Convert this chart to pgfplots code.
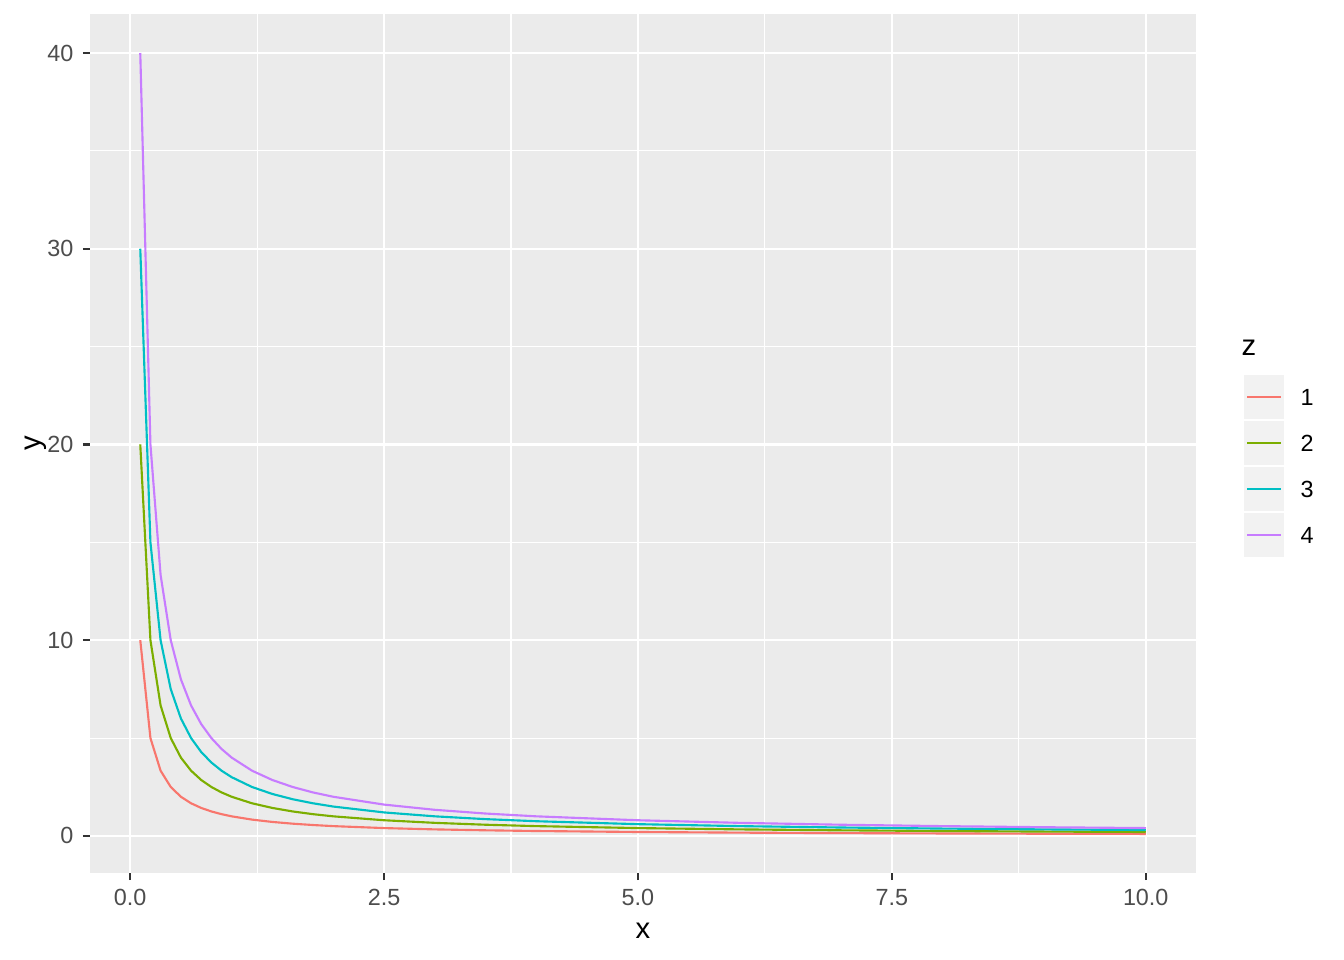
\documentclass[border=0pt]{standalone}
\usepackage{fontspec}
\setmainfont{Liberation Sans}
\usepackage{pgfplots}
\usepackage{pgfplotstable}
\pgfplotsset{compat=1.18}
\definecolor{panelbg}{HTML}{EBEBEB}
\definecolor{keybg}{HTML}{F2F2F2}
\definecolor{gray30}{HTML}{4D4D4D}
\definecolor{gray20}{HTML}{333333}
\definecolor{c1}{HTML}{F8766D}
\definecolor{c2}{HTML}{7CAE00}
\definecolor{c3}{HTML}{00BFC4}
\definecolor{c4}{HTML}{C77CFF}
\pgfplotstableread{
x y1 y2 y3 y4
0.1 10 20 30 40
0.2 5 10 15 20
0.3 3.333 6.667 10 13.333
0.4 2.5 5 7.5 10
0.5 2 4 6 8
0.6 1.667 3.333 5 6.667
0.7 1.429 2.857 4.286 5.714
0.8 1.25 2.5 3.75 5
0.9 1.111 2.222 3.333 4.444
1.0 1 2 3 4
1.2 0.833 1.667 2.5 3.333
1.4 0.714 1.429 2.143 2.857
1.6 0.625 1.25 1.875 2.5
1.8 0.556 1.111 1.667 2.222
2.0 0.5 1 1.5 2
2.5 0.4 0.8 1.2 1.6
3.0 0.333 0.667 1 1.333
3.5 0.286 0.571 0.857 1.143
4.0 0.25 0.5 0.75 1
5.0 0.2 0.4 0.6 0.8
6.0 0.167 0.333 0.5 0.667
7.0 0.143 0.286 0.429 0.571
8.0 0.125 0.25 0.375 0.5
9.0 0.111 0.222 0.333 0.444
10.0 0.1 0.2 0.3 0.4
}\datatable
\begin{document}
\begin{tikzpicture}
\begin{axis}[
  at={(33.877pt,32.748pt)}, anchor=south west,
  scale only axis, width=416.31pt, height=323.34pt,
  xmin=-0.395, xmax=10.495, ymin=-1.895, ymax=41.995,
  axis background/.style={fill=panelbg},
  axis line style={draw=none},
  xtick={0,2.5,5,7.5,10},
  xticklabels={0.0,2.5,5.0,7.5,10.0},
  ytick={0,10,20,30,40},
  minor xtick={1.25,3.75,6.25,8.75},
  minor ytick={5,15,25,35},
  grid=both,
  major grid style={white, line width=0.8pt},
  minor grid style={white, line width=0.4pt},
  tick align=outside, tick pos=left,
  major tick length=2.7pt, minor tick length=0pt,
  tick style={gray20, line width=0.8pt},
  /pgf/number format/assume math mode=true,
  ticklabel style={font=\fontsize{8.8}{10}\selectfont, text=gray30},
  xticklabel style={yshift=0pt},
  xlabel={x}, ylabel={y},
  label style={font=\fontsize{11}{13}\selectfont},
  xlabel style={yshift=0.5pt},
  ylabel style={yshift=-6.5pt},
  every axis plot/.append style={line width=0.8pt},
]
\addplot[c1] table[x=x,y=y1]{\datatable};
\addplot[c2] table[x=x,y=y2]{\datatable};
\addplot[c3] table[x=x,y=y3]{\datatable};
\addplot[c4] table[x=x,y=y4]{\datatable};
\end{axis}
\begin{scope}[x=0.37641pt,y=0.37641pt]
\node[anchor=west, font=\fontsize{11}{13}\selectfont, inner sep=0pt] at (1241,612) {z};
\foreach \i/\c/\l in {0/c1/1,1/c2/2,2/c3/3,3/c4/4}{
  \pgfmathsetmacro{\ktop}{960-374-46*\i}
  \pgfmathsetmacro{\kbot}{\ktop-46}
  \pgfmathsetmacro{\kmid}{\ktop-23}
  \fill[keybg] (1243,\kbot) rectangle (1285,\ktop);
  \draw[white, line width=0.8pt] (1243,\kbot) rectangle (1285,\ktop);
  \draw[\c, line width=0.8pt] (1247,\kmid) -- (1281,\kmid);
  \node[anchor=west, font=\fontsize{8.8}{10}\selectfont, inner sep=0pt] at (1300,\kmid) {\l};
}
\pgfresetboundingbox
\path (0,0) rectangle (1344,960);
\end{scope}
\end{tikzpicture}
\end{document}
